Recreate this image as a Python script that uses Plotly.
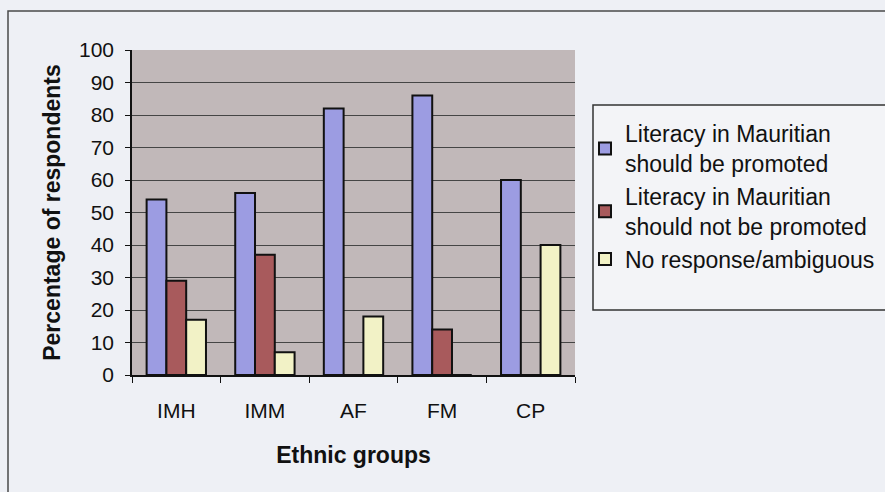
import plotly.graph_objects as go

# Survey results by ethnic group (percent of respondents)
groups = ["IMH", "IMM", "AF", "FM", "CP"]
promoted = [54, 56, 82, 86, 60]
not_promoted = [29, 37, 0, 14, 0]
no_response = [17, 7, 18, 0, 40]

series_names = [
    "Literacy in Mauritian<br>should be promoted",
    "Literacy in Mauritian<br>should not be promoted",
    "No response/ambiguous",
]
series_colors = ["#9c9ce2", "#a85a5c", "#f2f2c6"]
y_ticks = [0, 10, 20, 30, 40, 50, 60, 70, 80, 90, 100]

W, H = 885, 492
L, R, T, B = 132, 310, 50, 117
pw, ph = W - L - R, H - T - B


def px_x(px):
    return (px - L) / pw


def px_y(py):
    return (H - B - py) / ph


fig = go.Figure()
for name, vals, col in zip(series_names, [promoted, not_promoted, no_response], series_colors):
    fig.add_trace(go.Bar(
        x=groups, y=vals, name=name,
        marker=dict(color=col, line=dict(color="#111111", width=2)),
    ))

font_main = "Liberation Sans, Arial, sans-serif"

fig.update_layout(
    width=W, height=H,
    margin=dict(l=L, r=R, t=T, b=B, pad=0, autoexpand=False),
    paper_bgcolor="#eef0f5",
    plot_bgcolor="#c1b8b9",
    barmode="group",
    bargap=0.33,
    bargroupgap=0,
    font=dict(family=font_main, color="#111111"),
    showlegend=True,
    legend=dict(
        x=px_x(585), y=px_y(112), xanchor="left", yanchor="top",
        bgcolor="rgba(0,0,0,0)", borderwidth=0,
        font=dict(size=23, family=font_main, color="#111111"),
        itemwidth=30, tracegroupgap=0,
    ),
    xaxis=dict(
        type="category",
        showline=True, linecolor="#111111", linewidth=1.5,
        ticks="outside", ticklen=6, tickcolor="#111111", tickson="boundaries",
        tickfont=dict(size=21),
        ticklabelstandoff=16,
        showgrid=False,
        title=dict(text="<b>Ethnic groups</b>", font=dict(size=23), standoff=26),
    ),
    yaxis=dict(
        range=[0, 100],
        tickvals=y_ticks,
        showline=True, linecolor="#111111", linewidth=1.5,
        ticks="outside", ticklen=5, tickcolor="#111111",
        tickfont=dict(size=21),
        ticklabelstandoff=7,
        showgrid=True, gridcolor="#454545", gridwidth=1.2,
        zeroline=False,
        title=dict(text="<b>Percentage of respondents</b>", font=dict(size=23), standoff=12),
    ),
    shapes=[
        # outer chart frame
        dict(type="path", xref="paper", yref="paper",
             path=f"M {px_x(8)},{px_y(500)} L {px_x(8)},{px_y(11)} L {px_x(900)},{px_y(11)}",
             line=dict(color="#4a4a4a", width=1.5)),
        # legend box
        dict(type="rect", xref="paper", yref="paper",
             x0=px_x(593), x1=px_x(900), y0=px_y(310), y1=px_y(105),
             fillcolor="#f3f4f7", line=dict(color="#333333", width=1.5), layer="below"),
    ],
)

fig.write_html("out.html")
